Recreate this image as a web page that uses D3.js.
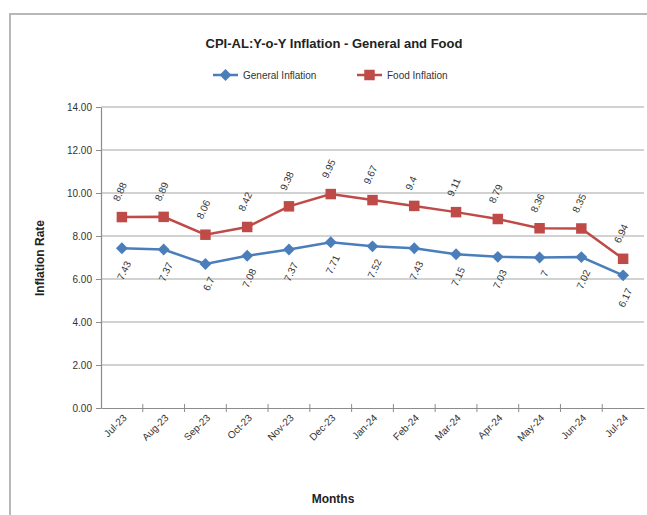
<!DOCTYPE html>
<html>
<head>
<meta charset="utf-8">
<script src="https://cdn.jsdelivr.net/npm/d3@7"></script>
<style>
  body { margin: 0; background: #fff; }
  text { font-family: "Liberation Sans", Arial, sans-serif; }
</style>
</head>
<body>
<svg id="chart"></svg>
<script>
// values
const months = ["Jul-23", "Aug-23", "Sep-23", "Oct-23", "Nov-23", "Dec-23", "Jan-24",
  "Feb-24", "Mar-24", "Apr-24", "May-24", "Jun-24", "Jul-24"]
const generalInflation = [7.43, 7.37, 6.7, 7.08, 7.37, 7.71, 7.52, 7.43, 7.15, 7.03, 7, 7.02, 6.17]
const foodInflation = [8.88, 8.89, 8.06, 8.42, 9.38, 9.95, 9.67, 9.4, 9.11, 8.79, 8.36, 8.35, 6.94]
const yTicks = [0, 2, 4, 6, 8, 10, 12, 14]

let dimensions = {
  width: 647, height: 515,
  margin: { top: 107, right: 3, bottom: 107, left: 101 },
}
dimensions.boundedWidth = dimensions.width - dimensions.margin.left - dimensions.margin.right
dimensions.boundedHeight = dimensions.height - dimensions.margin.top - dimensions.margin.bottom

const wrapper = d3.select("#chart")
  .attr("width", dimensions.width)
  .attr("height", dimensions.height)

// outer chart frame
wrapper.append("rect")
  .attr("x", 10).attr("y", 14)
  .attr("width", 660).attr("height", 520)
  .attr("fill", "none").attr("stroke", "#b8b8b8").attr("stroke-width", 2)

const bounds = wrapper.append("g")
  .attr("transform", `translate(${dimensions.margin.left}, ${dimensions.margin.top})`)

const xScale = d3.scaleBand()
  .domain(months)
  .range([0, dimensions.boundedWidth])

const yScale = d3.scaleLinear()
  .domain([0, 14])
  .range([dimensions.boundedHeight, 0])

const xPos = (d, i) => xScale(months[i]) + xScale.bandwidth() / 2

// gridlines
bounds.append("g")
  .selectAll("line")
  .data(yTicks.filter(d => d > 0))
  .join("line")
  .attr("x1", 0).attr("x2", dimensions.boundedWidth)
  .attr("y1", d => yScale(d)).attr("y2", d => yScale(d))
  .attr("stroke", "#a6a6a6").attr("stroke-width", 1.2)

// y axis
const yAxis = bounds.append("g")
  .call(d3.axisLeft(yScale).tickValues(yTicks).tickFormat(d3.format(".2f")).tickSize(5).tickSizeOuter(0))
yAxis.select(".domain").attr("stroke", "#8c8c8c").attr("stroke-width", 1.2)
yAxis.selectAll(".tick line").attr("stroke", "#8c8c8c")
yAxis.selectAll(".tick text")
  .attr("x", -9)
  .style("font-size", "10px").attr("fill", "#333")
  .style("font-family", "Liberation Sans, Arial, sans-serif")

// x axis, ticks sit on band boundaries
const xAxis = bounds.append("g")
  .attr("transform", `translate(0, ${dimensions.boundedHeight})`)
  .call(d3.axisBottom(xScale).tickSize(0).tickSizeOuter(0))
xAxis.select(".domain").attr("stroke", "#8c8c8c").attr("stroke-width", 1.2)
xAxis.selectAll(".tick text")
  .attr("text-anchor", "end")
  .attr("transform", "translate(3, 8) rotate(-45)")
  .attr("dy", "0.35em")
  .attr("y", 0)
  .style("font-size", "10px").attr("fill", "#333")
  .style("font-family", "Liberation Sans, Arial, sans-serif")

bounds.append("g")
  .selectAll("line")
  .data(months.slice(1))
  .join("line")
  .attr("x1", d => xScale(d)).attr("x2", d => xScale(d))
  .attr("y1", dimensions.boundedHeight - 4).attr("y2", dimensions.boundedHeight + 4)
  .attr("stroke", "#8c8c8c")

// lines
const lineGenerator = d3.line()
  .x(xPos)
  .y(d => yScale(d))

bounds.append("path")
  .attr("d", lineGenerator(generalInflation))
  .attr("fill", "none").attr("stroke", "#4a7ebb").attr("stroke-width", 2.5)

bounds.append("path")
  .attr("d", lineGenerator(foodInflation))
  .attr("fill", "none").attr("stroke", "#be4b48").attr("stroke-width", 2.5)

// markers
const diamond = d3.symbol().type(d3.symbolDiamond2).size(90)
const square = d3.symbol().type(d3.symbolSquare).size(110)

bounds.append("g")
  .selectAll("path")
  .data(generalInflation)
  .join("path")
  .attr("d", diamond)
  .attr("transform", (d, i) => `translate(${xPos(d, i)}, ${yScale(d)})`)
  .attr("fill", "#4a7ebb")

bounds.append("g")
  .selectAll("path")
  .data(foodInflation)
  .join("path")
  .attr("d", square)
  .attr("transform", (d, i) => `translate(${xPos(d, i)}, ${yScale(d)})`)
  .attr("fill", "#be4b48")

// data labels
bounds.append("g")
  .selectAll("text")
  .data(foodInflation)
  .join("text")
  .attr("transform", (d, i) => `translate(${xPos(d, i) - 3}, ${yScale(d) - 15}) rotate(-65)`)
  .attr("text-anchor", "start")
  .style("font-size", "10px").attr("fill", "#333")
  .text(d => d)

bounds.append("g")
  .selectAll("text")
  .data(generalInflation)
  .join("text")
  .attr("transform", (d, i) => `translate(${xPos(d, i) + 3}, ${yScale(d) + 12}) rotate(-65)`)
  .attr("text-anchor", "end")
  .attr("dy", "0.7em")
  .style("font-size", "10px").attr("fill", "#333")
  .text(d => d)

// title
wrapper.append("text")
  .attr("x", 334).attr("y", 48)
  .attr("text-anchor", "middle")
  .style("font-size", "13px").style("font-weight", "bold").attr("fill", "#222")
  .text("CPI-AL:Y-o-Y Inflation - General and Food")

// legend
const legend = wrapper.append("g").attr("transform", "translate(213, 75)")
const legendItems = [
  { name: "General Inflation", color: "#4a7ebb", symbol: diamond, x: 0 },
  { name: "Food Inflation", color: "#be4b48", symbol: square, x: 144 },
]
legendItems.forEach(item => {
  const g = legend.append("g").attr("transform", `translate(${item.x}, 0)`)
  g.append("line").attr("x1", 0).attr("x2", 25).attr("stroke", item.color).attr("stroke-width", 2.5)
  g.append("path").attr("d", item.symbol).attr("transform", "translate(12.5, 0)").attr("fill", item.color)
  g.append("text").attr("x", 30).attr("dy", "0.35em")
    .style("font-size", "10px").attr("fill", "#333").text(item.name)
})

// axis titles
wrapper.append("text")
  .attr("transform", "translate(44, 258) rotate(-90)")
  .attr("text-anchor", "middle")
  .style("font-size", "12px").style("font-weight", "bold").attr("fill", "#222")
  .text("Inflation Rate")

wrapper.append("text")
  .attr("x", 333).attr("y", 503)
  .attr("text-anchor", "middle")
  .style("font-size", "12px").style("font-weight", "bold").attr("fill", "#222")
  .text("Months")
</script>
</body>
</html>
